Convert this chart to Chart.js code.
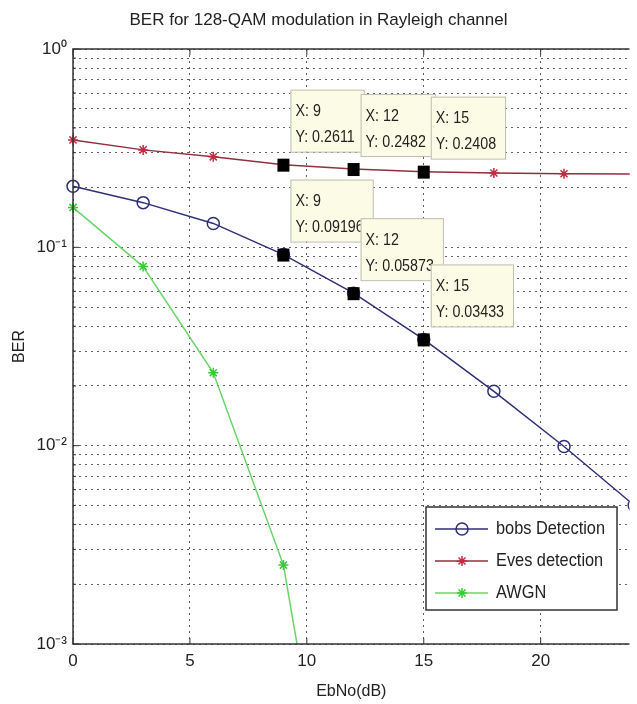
<!DOCTYPE html>
<html lang="en">

<head>
  <meta charset="UTF-8">
  <title>BER for 128-QAM modulation in Rayleigh channel</title>
  <style>
    body { margin: 0; background: #fff; }
    .grafico { width: 637px; height: 704px; }
  </style>
</head>

<body>
  <div class="grafico">
    <canvas id="chartBer"></canvas>
  </div>
</body>

</html>
<script src="https://cdn.jsdelivr.net/npm/chart.js@4/dist/chart.umd.min.js"></script>

<script>
  // dados
  const ebno = [0, 3, 6, 9, 12, 15, 18, 21, 24];
  const bobsBer = [0.203, 0.168, 0.132, 0.09196, 0.05873, 0.03433, 0.0188, 0.0099, 0.0050];
  const evesBer = [0.348, 0.31, 0.286, 0.2611, 0.2482, 0.2408, 0.237, 0.235, 0.234];
  const awgnEbno = [0, 3, 6, 9, 12];
  const awgnBer = [0.159, 0.080, 0.0233, 0.0025, 0.000022];

  const xTicks = [0, 5, 10, 15, 20];
  const yDecades = [0.001, 0.01, 0.1, 1];
  const tipX = [9, 12, 15];

  const nomes = ['bobs Detection', 'Eves detection', 'AWGN'];
  const fonte = "'Liberation Sans', Arial, sans-serif";

  const corBob = '#2f2f78';
  const corEveLinha = '#8e3040';
  const corEve = '#c42a40';
  const corAwgnLinha = '#6ad46a';
  const corAwgn = '#33cc33';

  // linhas de grade do eixo y: decadas e 2..9 de cada decada
  var yGrade = [];
  for (var d = 0; d < yDecades.length; d++) {
    yGrade.push(yDecades[d]);
    if (d < yDecades.length - 1) {
      for (var m = 2; m <= 9; m++) yGrade.push(yDecades[d] * m);
    }
  }

  const sup = { '0': '\u2070', '1': '\u00b9', '2': '\u00b2', '3': '\u00b3', '-': '\u207b' };
  function rotuloPotencia(v) {
    var e = Math.round(Math.log10(v));
    if (Math.abs(v / Math.pow(10, e) - 1) > 1e-6) return '';
    return '10' + String(e).split('').map(c => sup[c]).join('');
  }

  function pontos(xs, ys) {
    return xs.map((x, i) => ({ x: x, y: ys[i] }));
  }

  // texto estreito (a fonte do matlab parece condensada)
  function textoEstreito(ctx, txt, x, y, escala) {
    ctx.save();
    ctx.translate(x, y);
    ctx.scale(escala, 1);
    ctx.fillText(txt, 0, 0);
    ctx.restore();
  }

  // moldura e marcas internas estilo matlab
  const molduraPlugin = {
    id: 'moldura',
    afterDraw(chart) {
      const ctx = chart.ctx, a = chart.chartArea;
      const xs = chart.scales.x, ys = chart.scales.y;
      ctx.save();
      ctx.strokeStyle = '#333';
      ctx.lineWidth = 1.5;
      ctx.beginPath();
      ctx.moveTo(a.right, a.top);
      ctx.lineTo(a.left, a.top);
      ctx.lineTo(a.left, a.bottom);
      ctx.lineTo(a.right, a.bottom);
      ctx.stroke();
      ctx.lineWidth = 1;
      ctx.beginPath();
      xTicks.forEach(v => {
        var px = xs.getPixelForValue(v);
        ctx.moveTo(px, a.bottom); ctx.lineTo(px, a.bottom - 6);
        ctx.moveTo(px, a.top); ctx.lineTo(px, a.top + 6);
      });
      yGrade.forEach(v => {
        var py = ys.getPixelForValue(v);
        var len = rotuloPotencia(v) ? 6 : 3;
        ctx.moveTo(a.left, py); ctx.lineTo(a.left + len, py);
      });
      ctx.stroke();
      ctx.restore();
    }
  };

  // caixas de "data tip"
  const dicasPlugin = {
    id: 'dicas',
    afterDatasetsDraw(chart) {
      const ctx = chart.ctx;
      const xs = chart.scales.x, ys = chart.scales.y;
      const esc = 0.84;
      ctx.save();
      ctx.font = '17px ' + fonte;
      ctx.textBaseline = 'middle';
      [evesBer, bobsBer].forEach(serie => {
        tipX.forEach(x => {
          var y = serie[ebno.indexOf(x)];
          var px = xs.getPixelForValue(x);
          var py = ys.getPixelForValue(y);
          var l1 = 'X: ' + x, l2 = 'Y: ' + y;
          var w = Math.max(ctx.measureText(l1).width, ctx.measureText(l2).width) * esc + 14;
          var h = 62;
          var bx = px + 7, by = py - 13 - h;
          ctx.fillStyle = '#fcfce6';
          ctx.strokeStyle = '#bdbdb0';
          ctx.lineWidth = 1;
          ctx.fillRect(bx, by, w, h);
          ctx.strokeRect(bx + 0.5, by + 0.5, w, h);
          ctx.fillStyle = '#222';
          textoEstreito(ctx, l1, bx + 5, by + 22, esc);
          textoEstreito(ctx, l2, bx + 5, by + 48, esc);
          ctx.fillStyle = '#000';
          ctx.fillRect(px - 6, py - 6, 12, 13);
        });
      });
      ctx.restore();
    }
  };

  // legenda dentro do gráfico
  const legendaPlugin = {
    id: 'legendaDentro',
    afterDraw(chart) {
      const ctx = chart.ctx;
      const bx = 426, by = 507, bw = 191, bh = 103;
      ctx.save();
      ctx.fillStyle = '#fff';
      ctx.fillRect(bx, by, bw, bh);
      ctx.strokeStyle = '#333';
      ctx.lineWidth = 1.5;
      ctx.strokeRect(bx, by, bw, bh);
      ctx.font = '19px ' + fonte;
      ctx.textBaseline = 'middle';
      chart.data.datasets.forEach((ds, i) => {
        var y = by + 22 + i * 32;
        ctx.strokeStyle = ds.borderColor;
        ctx.lineWidth = 1.5;
        ctx.beginPath();
        ctx.moveTo(bx + 9, y);
        ctx.lineTo(bx + 62, y);
        ctx.stroke();
        ctx.strokeStyle = ds.pointBorderColor;
        ctx.beginPath();
        if (ds.pointStyle === 'circle') {
          ctx.arc(bx + 36, y, 6, 0, Math.PI * 2);
        } else {
          ctx.moveTo(bx + 36, y - 5); ctx.lineTo(bx + 36, y + 5);
          ctx.moveTo(bx + 31, y); ctx.lineTo(bx + 41, y);
          ctx.moveTo(bx + 32.5, y - 3.5); ctx.lineTo(bx + 39.5, y + 3.5);
          ctx.moveTo(bx + 32.5, y + 3.5); ctx.lineTo(bx + 39.5, y - 3.5);
        }
        ctx.stroke();
        ctx.fillStyle = '#222';
        textoEstreito(ctx, ds.label, bx + 70, y, 0.86);
      });
      ctx.restore();
    }
  };

  Chart.defaults.font.family = fonte;
  Chart.defaults.color = '#222';

  var canva = document.getElementById('chartBer');
  var grafico = new Chart(canva, {
    type: 'line',
    data: {
      datasets: [{
        label: nomes[0],
        data: pontos(ebno, bobsBer),
        borderColor: corBob,
        borderWidth: 1.5,
        pointStyle: 'circle',
        pointRadius: 6,
        pointBorderWidth: 1.5,
        pointBorderColor: corBob,
        pointBackgroundColor: 'rgba(0,0,0,0)',
        clip: { left: 10, top: 10, right: 0, bottom: 0 }
      },
      {
        label: nomes[1],
        data: pontos(ebno, evesBer),
        borderColor: corEveLinha,
        borderWidth: 1.5,
        pointStyle: 'star',
        pointRadius: 5,
        pointBorderWidth: 1.5,
        pointBorderColor: corEve,
        pointBackgroundColor: corEve,
        clip: { left: 10, top: 10, right: 0, bottom: 0 }
      },
      {
        label: nomes[2],
        data: pontos(awgnEbno, awgnBer),
        borderColor: corAwgnLinha,
        borderWidth: 1.5,
        pointStyle: 'star',
        pointRadius: 5,
        pointBorderWidth: 1.5,
        pointBorderColor: corAwgn,
        pointBackgroundColor: corAwgn,
        clip: { left: 10, top: 10, right: 0, bottom: 0 }
      }]
    },
    options: {
      responsive: true,
      maintainAspectRatio: false,
      animation: false,
      layout: { padding: 0 },
      plugins: {
        legend: { display: false },
        tooltip: { enabled: false },
        title: {
          display: true,
          text: 'BER for 128-QAM modulation in Rayleigh channel',
          font: { size: 17, weight: 'normal' },
          color: '#222',
          padding: { top: 10, bottom: 18.6 }
        }
      },
      scales: {
        x: {
          type: 'linear',
          min: 0,
          max: 23.8,
          afterBuildTicks: (s) => { s.ticks = xTicks.map(v => ({ value: v })); },
          afterFit: (s) => { s.height = 60; },
          ticks: { padding: 7, font: { size: 17 }, color: '#222' },
          grid: { color: 'rgba(40,40,40,0.75)', lineWidth: 1, drawTicks: false },
          border: { display: false, dash: [2, 4] },
          title: {
            display: true,
            text: 'EbNo(dB)',
            font: { size: 16 },
            color: '#222',
            padding: { top: 0, bottom: 3 }
          }
        },
        y: {
          type: 'logarithmic',
          min: 0.001,
          max: 1,
          afterBuildTicks: (s) => { s.ticks = yGrade.map(v => ({ value: v })); },
          afterFit: (s) => { s.width = 73; },
          ticks: {
            autoSkip: false,
            padding: 6,
            font: { size: 17 },
            color: '#222',
            callback: (v) => rotuloPotencia(v)
          },
          grid: { color: 'rgba(40,40,40,0.75)', lineWidth: 1, drawTicks: false },
          border: { display: false, dash: [2, 4] },
          title: {
            display: true,
            text: 'BER',
            font: { size: 16 },
            color: '#222',
            padding: { top: 10, bottom: 0 }
          }
        }
      }
    },
    plugins: [dicasPlugin, molduraPlugin, legendaPlugin]
  });
</script>
